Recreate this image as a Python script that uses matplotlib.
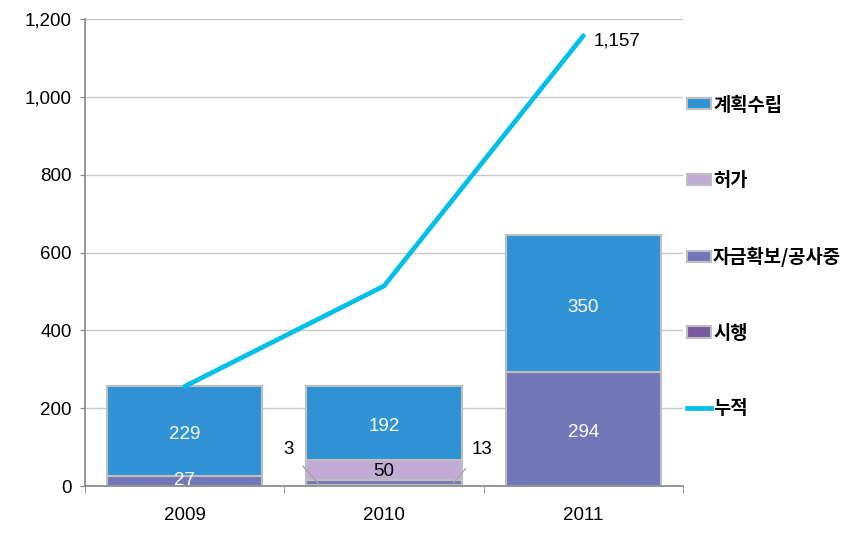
import numpy as np
import matplotlib.pyplot as plt
from matplotlib.patches import Patch
from matplotlib.lines import Line2D

plt.rcParams['font.family'] = ['Liberation Sans', 'Noto Sans CJK KR', 'DejaVu Sans']

years = ['2009', '2010', '2011']
siheng = [0, 3, 0]          # 시행
jageum = [27, 13, 294]      # 자금확보/공사중
heoga = [0, 50, 0]          # 허가
gyehoek = [229, 192, 350]   # 계획수립
nujeok = [256, 514, 1157]   # 누적

c_gyehoek = '#2f93d6'
c_heoga = '#c2acd6'
c_jageum = '#7377b9'
c_siheng = '#7a599e'
c_line = '#00c0ea'
edge = '#bfbfbf'

fig = plt.figure(figsize=(8.65, 5.54), dpi=100)
ax = fig.add_axes([0.0983, 0.1227, 0.6913, 0.843])

x = np.arange(len(years))
w = 0.78
bottom = np.zeros(3)
for name, vals, col in [('시행', siheng, c_siheng), ('자금확보/공사중', jageum, c_jageum),
                        ('허가', heoga, c_heoga), ('계획수립', gyehoek, c_gyehoek)]:
    ax.bar(x, vals, w, bottom=bottom, color=col, edgecolor=edge, linewidth=1.5, zorder=2)
    bottom += np.array(vals)

ax.plot(x, nujeok, color=c_line, lw=3.4, zorder=3, solid_capstyle='round')

# data labels (nudged a few pixels down, like the original)
fs = 13.5
dy = 10
b = np.array(siheng) + np.array(jageum)
ax.text(0, jageum[0] / 2 + 1, '27', color='white', ha='center', va='center', fontsize=fs)
ax.text(0, b[0] + heoga[0] + gyehoek[0] / 2 - dy, '229', color='white', ha='center', va='center', fontsize=fs)
ax.text(1, b[1] + heoga[1] / 2 - 3, '50', color='black', ha='center', va='center', fontsize=fs)
ax.text(1, b[1] + heoga[1] + gyehoek[1] / 2 - dy, '192', color='white', ha='center', va='center', fontsize=fs)
ax.text(2, jageum[2] / 2 - dy, '294', color='white', ha='center', va='center', fontsize=fs)
ax.text(2, jageum[2] + gyehoek[2] / 2 - dy, '350', color='white', ha='center', va='center', fontsize=fs)
ax.text(2.05, nujeok[2] - 14, '1,157', color='black', ha='left', va='center', fontsize=fs)

# leader-line labels for the small 2010 segments
ax.annotate('3', xy=(0.68, siheng[1] / 2), xytext=(0.52, 93), fontsize=fs,
            ha='center', va='center',
            arrowprops=dict(arrowstyle='-', color='#a6a6a6', lw=1, shrinkA=7, shrinkB=0))
ax.annotate('13', xy=(1.35, siheng[1] + jageum[1] / 2), xytext=(1.49, 93), fontsize=fs,
            ha='center', va='center',
            arrowprops=dict(arrowstyle='-', color='#a6a6a6', lw=1, shrinkA=7, shrinkB=0))

ax.set_xlim(-0.5, 2.5)
ax.set_ylim(0, 1200)
ax.set_yticks(np.arange(0, 1201, 200))
ax.set_yticklabels([f'{v:,}' for v in range(0, 1201, 200)], fontsize=fs)
ax.set_xticks(x)
ax.set_xticklabels(years, fontsize=fs)
ax.set_xticks([-0.5, 0.5, 1.5, 2.5], minor=True)
ax.tick_params(axis='x', which='major', length=0, pad=15)
ax.tick_params(axis='x', which='minor', length=5, color='#868686', direction='out')
ax.tick_params(axis='y', length=3.6, color='#868686', direction='out', pad=5.8)

ax.yaxis.grid(True, color='#c8c8c8', lw=1)
ax.set_axisbelow(True)
for s in ['top', 'right']:
    ax.spines[s].set_visible(False)
for s in ['left', 'bottom']:
    ax.spines[s].set_color('#868686')
    ax.spines[s].set_linewidth(1.2)

handles = [Patch(facecolor=c_gyehoek, edgecolor=edge, lw=1.5),
           Patch(facecolor=c_heoga, edgecolor=edge, lw=1.5),
           Patch(facecolor=c_jageum, edgecolor=edge, lw=1.5),
           Patch(facecolor=c_siheng, edgecolor=edge, lw=1.5),
           Line2D([], [], color=c_line, lw=3.4)]
labels = ['계획수립', '허가', '자금확보/공사중', '시행', '누적']
leg = ax.legend(handles, labels, loc='upper left', bbox_to_anchor=(1.0, 0.844),
                frameon=False, handlelength=1.28, handleheight=0.53, handletextpad=0.12,
                labelspacing=3.02, borderaxespad=0, borderpad=0.2,
                prop={'family': ['Noto Sans CJK KR'], 'weight': 'bold', 'size': 13.5})

fig.savefig('out.png', dpi=100)
